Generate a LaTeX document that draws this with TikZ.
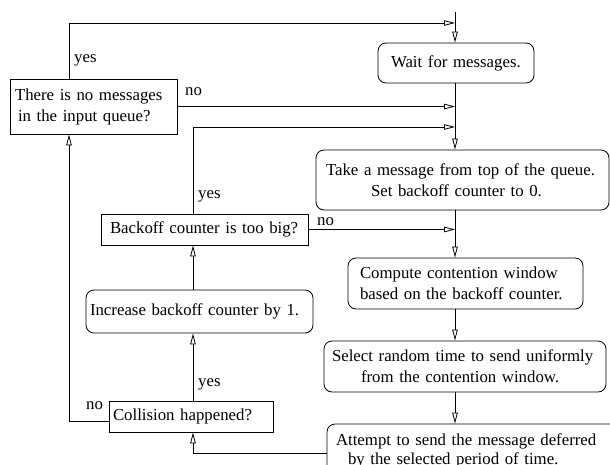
\documentclass[tikz,border=0pt]{standalone}
\usepackage{fontspec}
\setmainfont{Liberation Serif}
\usetikzlibrary{arrows.meta}
\tikzset{
  every node/.style={font=\fontsize{16.8}{21}\selectfont},
  box/.style={draw, line width=0.8pt, align=left, inner ysep=0pt},
  rbox/.style={box, rounded corners=8pt},
  arr/.style={draw, line width=0.8pt, -{Triangle[open, length=11pt, width=5.5pt]}},
  ln/.style={draw, line width=0.8pt},
  lbl/.style={anchor=base west, inner sep=0pt},
}
\begin{document}
\begin{tikzpicture}[x=1pt, y=-1pt]
\clip (0,0) rectangle (610,464);
\fill[white] (0,0) rectangle (610,464);

% boxes
\node[rbox, text width=130pt, inner xsep=13pt, minimum height=40pt] (wait) at (456,63) {\mbox{Wait for messages.}};
\node[rbox, text width=273pt, inner xsep=10pt, minimum height=60pt] (take) at (462.5,180)
  {\mbox{Take a message from top of the queue.}\\\mbox{\hspace*{45pt}Set backoff counter to 0.}};
\node[box, text width=157pt, inner xsep=5pt, minimum height=55pt] (noq) at (93.5,106.5)
  {\mbox{There is no messages}\\\mbox{\hspace*{3pt}in the input queue?}};
\node[box, text width=189pt, inner xsep=9pt, minimum height=31pt] (backoff) at (204.5,229.5)
  {\mbox{Backoff counter is too big?}};
\node[rbox, text width=219pt, inner xsep=4pt, minimum height=43pt] (increase) at (199.5,311.5)
  {\mbox{Increase backoff counter by 1.}};
\node[box, text width=156pt, inner xsep=4pt, minimum height=31pt] (collision) at (191,416.5)
  {\mbox{Collision happened?}};
\node[rbox, text width=211pt, inner xsep=12pt, minimum height=51pt] (compute) at (465.5,283.5)
  {\mbox{Compute contention window}\\\mbox{based on the backoff counter.}};
\node[rbox, text width=266pt, inner xsep=8pt, minimum height=51pt] (select) at (465,366.5)
  {\mbox{Select random time to send uniformly}\\\mbox{\hspace*{29pt}from the contention window.}};
\node[rbox, text width=276pt, inner xsep=9pt, minimum height=54pt, font=\fontsize{16.8}{19}\selectfont] (attempt) at (474,451)
  {\mbox{Attempt to send the message deferred}\\\mbox{\hspace*{12pt}by the selected period of time.}};

% helper coordinates
\coordinate (top) at (455,12);
\coordinate (j1) at (455,23);
\coordinate (j2) at (455,127);
\coordinate (cx) at (193,0);
\coordinate (lx) at (69,0);

% connectors
\draw[arr] (top) -- (top |- wait.north);
\draw[arr] (noq.north -| lx) |- (j1);
\draw[arr] (noq.east) -- (noq.east -| top);
\draw[arr] (backoff.north -| cx) |- (j2);
\draw[arr] (top |- wait.south) -- (top |- take.north);
\draw[arr] (backoff.east) -- (backoff.east -| top);
\draw[arr] (top |- take.south) -- (top |- compute.north);
\draw[arr] (top |- compute.south) -- (top |- select.north);
\draw[arr] (top |- select.south) -- (top |- attempt.north);
\draw[arr] (increase.north -| cx) -- (backoff.south -| cx);
\draw[arr] (collision.north -| cx) -- (increase.south -| cx);
\draw[arr] ([yshift=-4.5pt]collision.west) -| (noq.south -| lx);
\draw[arr] ([yshift=-2pt]attempt.west) -| (collision.south -| cx);

% labels
\node[lbl] (l1) at (74,62) {yes};
\node[lbl] (l2) at (185,95) {no};
\node[lbl] (l3) at (198,198) {yes};
\node[lbl] (l4) at (317,225) {no};
\node[lbl] (l5) at (198,386) {yes};
\node[lbl] (l6) at (86,409) {no};
\end{tikzpicture}
\end{document}
